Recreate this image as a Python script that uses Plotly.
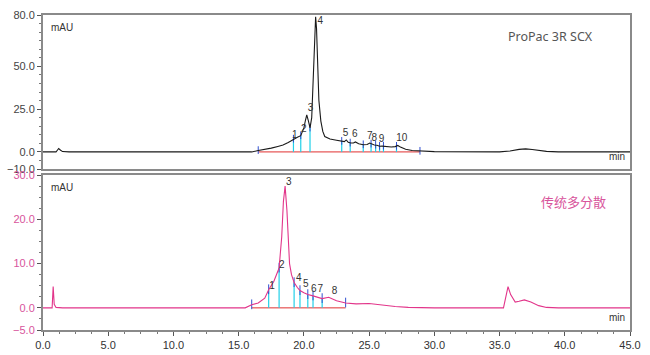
import plotly.graph_objects as go

# ---- data ----
top_t = [0, 1.0, 1.1, 1.2, 1.35, 1.5, 2.0, 16.0, 16.5, 17.0, 17.5, 18.0, 18.4, 18.8, 19.2, 19.5, 19.76,
         20.0, 20.12, 20.22, 20.35, 20.47, 20.6, 20.7, 20.8, 20.9, 20.97, 21.05, 21.15, 21.3, 21.45, 21.6,
         21.8, 22.0, 22.5, 22.9, 23.1, 23.25, 23.4, 23.6, 23.8, 23.95, 24.2, 24.55, 24.85, 25.05, 25.2,
         25.4, 25.6, 25.8, 26.0, 26.3, 26.7, 27.0, 27.2, 27.4, 27.8, 28.3, 29.0, 30.0, 35.0, 35.8, 36.5,
         37.0, 37.5, 38.0, 38.6, 39.5, 45.0]
top_v = [0, 0, 1.0, 2.0, 1.0, 0.2, 0, 0, 0.8, 1.4, 2.2, 3.2, 4.0, 5.5, 7.5, 8.6, 9.5,
         14.0, 18.5, 21.6, 18.0, 14.0, 20.0, 40.0, 65.0, 79.0, 72.0, 50.0, 30.0, 18.0, 12.0, 9.0,
         8.0, 7.5, 6.8, 6.2, 6.0, 7.0, 5.6, 5.2, 5.2, 5.8, 4.8, 4.2, 4.3, 5.2, 4.6,
         4.0, 3.9, 3.3, 3.4, 3.1, 2.9, 3.1, 3.8, 2.8, 1.6, 0.8, 0.4, 0.15, 0, 0.5, 1.5,
         1.8, 1.4, 0.8, 0.3, 0, 0]

bot_t = [0, 0.7, 0.78, 0.86, 1.0, 1.5, 15.5, 16.0, 16.5, 17.0, 17.3, 17.7, 18.1, 18.3, 18.43, 18.56,
         18.7, 18.9, 19.05, 19.25, 19.5, 19.7, 20.0, 20.3, 20.7, 21.0, 21.4, 21.9, 22.5, 23.2, 24.0,
         25.0, 26.0, 27.0, 28.0, 30.0, 35.3, 35.5, 35.65, 35.85, 36.2, 36.5, 36.9, 37.4, 38.0, 38.6,
         39.5, 45.0]
bot_v = [0, 0, 4.8, 0.8, 0.1, 0, 0, 0.7, 1.1, 2.2, 4.1, 6.0, 9.0, 16.0, 24.0, 27.5,
         22.0, 10.0, 7.5, 5.7, 4.6, 3.9, 3.4, 3.0, 2.7, 2.4, 2.1, 2.4, 1.6, 1.1, 0.9,
         1.0, 0.6, 0.3, 0.1, 0, 0, 2.5, 4.8, 3.0, 1.3, 1.5, 1.8, 1.3, 0.5, 0.1,
         0, 0]

# integration boundaries (time, height at trace)
top_drop_t = [16.5, 19.2, 19.76, 20.47, 22.9, 23.55, 24.55, 25.15, 25.5, 25.8, 26.1, 27.1, 28.9]
top_drop_v = [0.8, 7.5, 9.5, 14.0, 6.2, 5.2, 4.2, 4.6, 4.0, 3.3, 3.4, 3.3, 0.4]
bot_drop_t = [16.0, 17.3, 18.1, 19.25, 19.7, 20.3, 20.7, 21.4, 23.2]
bot_drop_v = [0.7, 4.1, 9.0, 5.7, 3.9, 3.0, 2.7, 2.1, 1.1]

# peak labels
top_lab = ["1", "2", "3", "4", "5", "6", "7", "8", "9", "10"]
top_lab_t = [19.3, 20.0, 20.5, 21.25, 23.2, 23.9, 25.05, 25.4, 25.95, 27.5]
top_lab_v = [9.5, 13.0, 25.5, 76.5, 10.5, 10.0, 8.8, 7.6, 7.0, 7.6]
bot_lab = ["1", "2", "3", "4", "5", "6", "7", "8"]
bot_lab_t = [17.55, 18.3, 18.85, 19.6, 20.15, 20.75, 21.25, 22.35]
bot_lab_v = [4.8, 9.6, 28.3, 6.6, 5.2, 4.2, 4.2, 3.7]

x_ticks = [0, 5, 10, 15, 20, 25, 30, 35, 40, 45]
top_yticks = [-10, 0, 25, 50, 80]
bot_yticks = [-5, 0, 10, 20, 30]

PINK = "#e2358a"
PINK_TXT = "#d8559c"
GREY = "#8a8a8a"
FONT = "Liberation Sans"

fig = go.Figure()

def add_integration(tt, vv, xa, ya, t0, t1):
    # red baseline
    fig.add_trace(go.Scatter(x=[t0, t1], y=[0, 0], mode="lines", line=dict(color="#e03030", width=1),
                             xaxis=xa, yaxis=ya, hoverinfo="skip"))
    cx, cy, bx, by = [], [], [], []
    for i, (t, v) in enumerate(zip(tt, vv)):
        if 0 < i < len(tt) - 1:
            cx += [t, t, None]
            cy += [0, v, None]
        bx += [t, t, None]
        by += [v - 2.0 if ya == "y" else v - 1.0, v + 2.5 if ya == "y" else v + 1.2, None]
    fig.add_trace(go.Scatter(x=cx, y=cy, mode="lines", line=dict(color="#22d0e8", width=1.2),
                             xaxis=xa, yaxis=ya, hoverinfo="skip"))
    fig.add_trace(go.Scatter(x=bx, y=by, mode="lines", line=dict(color="#3050d0", width=1),
                             xaxis=xa, yaxis=ya, hoverinfo="skip"))

add_integration(top_drop_t, top_drop_v, "x", "y", top_drop_t[0], top_drop_t[-1])
add_integration(bot_drop_t, bot_drop_v, "x2", "y2", bot_drop_t[0], bot_drop_t[-1])

fig.add_trace(go.Scatter(x=top_t, y=top_v, mode="lines", line=dict(color="#1a1a1a", width=1.1),
                         xaxis="x", yaxis="y"))
fig.add_trace(go.Scatter(x=bot_t, y=bot_v, mode="lines", line=dict(color=PINK, width=1.1),
                         xaxis="x2", yaxis="y2"))

fig.add_trace(go.Scatter(x=top_lab_t, y=top_lab_v, text=top_lab, mode="text",
                         textfont=dict(family=FONT, size=10, color="#333"), textposition="middle center",
                         xaxis="x", yaxis="y"))
fig.add_trace(go.Scatter(x=bot_lab_t, y=bot_lab_v, text=bot_lab, mode="text",
                         textfont=dict(family=FONT, size=10, color="#333"), textposition="middle center",
                         xaxis="x2", yaxis="y2"))

axis_common = dict(showline=True, linecolor=GREY, linewidth=2, mirror=True, showgrid=False,
                   zeroline=False, automargin=False)

fig.update_layout(
    width=650, height=355, margin=dict(l=43, r=20, t=15, b=25, autoexpand=False),
    paper_bgcolor="white", plot_bgcolor="white", showlegend=False,
    font=dict(family=FONT, size=11, color="#333"),
    xaxis=dict(domain=[0, 1], range=[0, 45], anchor="y", showticklabels=False, ticks="", **axis_common),
    yaxis=dict(domain=[0.511, 1], range=[-10, 80], anchor="x", tickvals=top_yticks, tickformat=".1f",
               ticks="outside", ticklen=4, tickcolor="#555", tickfont=dict(color="#444", size=11),
               minor=dict(dtick=5, ticks="outside", ticklen=2, tickcolor="#777"), **axis_common),
    xaxis2=dict(domain=[0, 1], range=[0, 45], anchor="y2", tickvals=x_ticks, tickformat=".1f",
                ticks="outside", ticklen=4, tickcolor="#555", tickfont=dict(color="#333", size=11),
                minor=dict(dtick=1.25, ticks="outside", ticklen=2, tickcolor="#777"), **axis_common),
    yaxis2=dict(domain=[0, 0.492], range=[-5, 30], anchor="x2", tickvals=bot_yticks, tickformat=".1f",
                ticks="outside", ticklen=4, tickcolor="#555", tickfont=dict(color=PINK_TXT, size=11),
                minor=dict(dtick=2.5, ticks="outside", ticklen=2, tickcolor="#777"), **axis_common),
)

ann = [
    dict(text="mAU", x=0.01, y=0.97, xref="x domain", yref="y domain", xanchor="left", yanchor="top",
         font=dict(size=10, color="#333")),
    dict(text="mAU", x=0.01, y=0.97, xref="x2 domain", yref="y2 domain", xanchor="left", yanchor="top",
         font=dict(size=10, color="#333")),
    dict(text="min", x=0.995, y=0.03, xref="x domain", yref="y domain", xanchor="right", yanchor="bottom",
         font=dict(size=10, color="#333")),
    dict(text="min", x=0.995, y=0.03, xref="x2 domain", yref="y2 domain", xanchor="right", yanchor="bottom",
         font=dict(size=10, color="#333")),
    dict(text="ProPac 3R SCX", x=0.94, y=0.86, xref="x domain", yref="y domain", xanchor="right",
         yanchor="middle", font=dict(size=12.5, color="#555", family="Noto Sans")),
    dict(text="传统多分散", x=0.962, y=0.826, xref="x2 domain", yref="y2 domain", xanchor="right",
         yanchor="middle", font=dict(size=13, color=PINK_TXT, family="Noto Sans CJK SC")),
]
fig.update_layout(annotations=[dict(showarrow=False, **a) for a in ann])

fig.write_html("out.html")
